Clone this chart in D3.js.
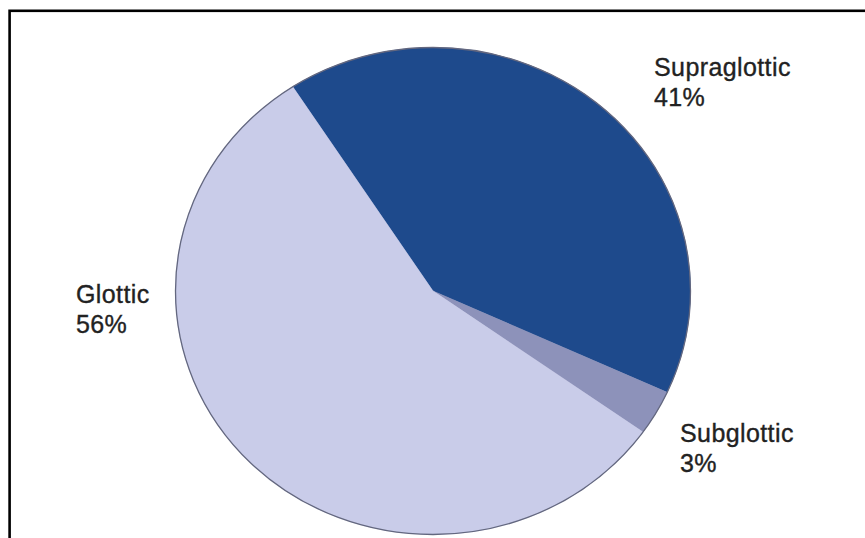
<!DOCTYPE html>
<html>
<head>
<meta charset="utf-8">
<script src="https://cdn.jsdelivr.net/npm/d3@7"></script>
<style>
  html, body { margin: 0; padding: 0; background: #ffffff; }
  svg { display: block; }
  text { font-family: "Liberation Sans", Arial, Helvetica, sans-serif; }
</style>
</head>
<body>
<svg id="chart" width="865" height="538"></svg>
<script>
// Site of laryngeal tumours, share of cases
const categories = ["Supraglottic", "Subglottic", "Glottic"];
const percentages = [41, 3, 56];
const sliceColors = ["#1e4a8c", "#8d92ba", "#c9cce9"];

// Where each two-line label sits (left edge of text, first baseline)
const labelAnchors = {
  Supraglottic: [654, 76],
  Subglottic: [680, 442],
  Glottic: [76, 303]
};

const W = 865, H = 538;
const cx = 433, cy = 291;        // pie centre
const rx = 257.5, ry = 243.5;    // slightly flattened disc
const startDeg = -33;            // first slice begins just left of 12 o'clock

const svg = d3.select("#chart");

// frame around the figure
svg.append("rect")
  .attr("x", 9.6).attr("y", 10.8)
  .attr("width", W + 20).attr("height", H + 20)
  .attr("fill", "none")
  .attr("stroke", "#000")
  .attr("stroke-width", 2.6);

const data = categories.map((c, i) => ({ name: c, value: percentages[i], color: sliceColors[i] }));

const start = startDeg * Math.PI / 180;
const pie = d3.pie()
  .sort(null)
  .value(d => d.value)
  .startAngle(start)
  .endAngle(start + 2 * Math.PI);

const arc = d3.arc().innerRadius(0).outerRadius(rx);

const g = svg.append("g")
  .attr("transform", `translate(${cx},${cy}) scale(1,${ry / rx})`);

g.selectAll("path.slice")
  .data(pie(data))
  .join("path")
  .attr("class", "slice")
  .attr("d", arc)
  .attr("fill", d => d.data.color)
  .attr("stroke", d => d.data.color)
  .attr("stroke-width", 0.6);

// thin grey rim around the disc
g.append("circle")
  .attr("r", rx)
  .attr("fill", "none")
  .attr("stroke", "#63677f")
  .attr("stroke-width", 1.3)
  .attr("vector-effect", "non-scaling-stroke");

// labels
const labels = svg.selectAll("text.lbl")
  .data(data)
  .join("text")
  .attr("class", "lbl")
  .attr("x", d => labelAnchors[d.name][0])
  .attr("y", d => labelAnchors[d.name][1])
  .attr("font-size", 25)
  .attr("letter-spacing", 0.4)
  .attr("fill", "#222")
  .attr("stroke", "#222")
  .attr("stroke-width", 0.35);

labels.append("tspan")
  .attr("x", d => labelAnchors[d.name][0])
  .text(d => d.name);
labels.append("tspan")
  .attr("x", d => labelAnchors[d.name][0])
  .attr("dy", 30)
  .text(d => d.value + "%");
</script>
</body>
</html>
